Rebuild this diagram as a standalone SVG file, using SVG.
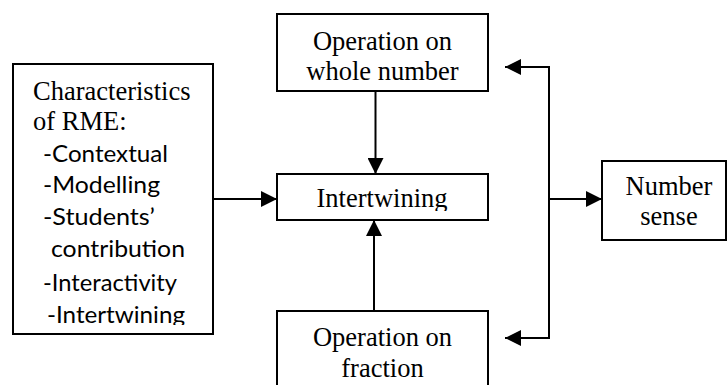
<svg xmlns="http://www.w3.org/2000/svg" width="727" height="385" viewBox="0 0 727 385">
  <style>
    .box { fill: #ffffff; stroke: #000000; stroke-width: 2; }
    .serif { font-family: "Liberation Serif", "Times New Roman", serif; font-size: 26.5px; fill: #000000; }
    .sans { font-family: Lato, "Liberation Sans", sans-serif; font-size: 22.5px; fill: #000000; }
    .mid { text-anchor: middle; }
    .conn { fill: none; stroke: #000000; stroke-width: 2; }
  </style>
  <defs>
    <marker id="arrow" viewBox="0 0 16 16" refX="16" refY="8" markerWidth="16" markerHeight="16" markerUnits="userSpaceOnUse" orient="auto">
      <path d="M0,0 L16,8 L0,16 Z" fill="#000000"/>
    </marker>
    <clipPath id="clipLeft"><rect x="14" y="65" width="198" height="260"/></clipPath>
    <clipPath id="clipMid"><rect x="278" y="175" width="210" height="36"/></clipPath>
  </defs>
  <rect x="0" y="0" width="727" height="385" fill="#ffffff"/>

  <g id="node-characteristics">
    <rect class="box" x="13" y="64" width="200" height="270"/>
    <g clip-path="url(#clipLeft)">
      <text class="serif" x="33" y="100">Characteristics</text>
      <text class="serif" x="33" y="130">of RME:</text>
      <text class="sans" x="43" y="162" textLength="125" lengthAdjust="spacingAndGlyphs">-Contextual</text>
      <text class="sans" x="43" y="193" textLength="117" lengthAdjust="spacingAndGlyphs">-Modelling</text>
      <text class="sans" x="43" y="225" textLength="112" lengthAdjust="spacingAndGlyphs">-Students’</text>
      <text class="sans" x="51" y="257" textLength="134" lengthAdjust="spacingAndGlyphs">contribution</text>
      <text class="sans" x="43" y="291" textLength="134" lengthAdjust="spacingAndGlyphs">-Interactivity</text>
      <text class="sans" x="47" y="323" textLength="138" lengthAdjust="spacingAndGlyphs">-Intertwining</text>
    </g>
  </g>

  <g id="node-whole">
    <rect class="box" x="277" y="14" width="211" height="77"/>
    <text class="serif mid" x="382.5" y="50">Operation on</text>
    <text class="serif mid" x="382.5" y="80">whole number</text>
  </g>

  <g id="node-intertwining">
    <rect class="box" x="277" y="174" width="211" height="46"/>
    <g clip-path="url(#clipMid)">
      <text class="serif mid" x="382" y="207">Intertwining</text>
    </g>
  </g>

  <g id="node-fraction">
    <rect class="box" x="277" y="311" width="211" height="90"/>
    <text class="serif mid" x="382.5" y="346">Operation on</text>
    <text class="serif mid" x="382.5" y="377">fraction</text>
  </g>

  <g id="node-numbersense">
    <rect class="box" x="602" y="161" width="124" height="79"/>
    <text class="serif mid" x="669" y="195">Number</text>
    <text class="serif mid" x="669" y="225">sense</text>
  </g>

  <g id="connectors">
    <line class="conn" x1="213" y1="199" x2="277" y2="199" marker-end="url(#arrow)"/>
    <line class="conn" x1="375.5" y1="91" x2="375.5" y2="174" marker-end="url(#arrow)"/>
    <line class="conn" x1="374" y1="311" x2="374" y2="220" marker-end="url(#arrow)"/>
    <line class="conn" x1="549" y1="67" x2="549" y2="338"/>
    <line class="conn" x1="550" y1="67" x2="505" y2="67" marker-end="url(#arrow)"/>
    <line class="conn" x1="550" y1="338" x2="505" y2="338" marker-end="url(#arrow)"/>
    <line class="conn" x1="549" y1="199" x2="602" y2="199" marker-end="url(#arrow)"/>
  </g>
</svg>
